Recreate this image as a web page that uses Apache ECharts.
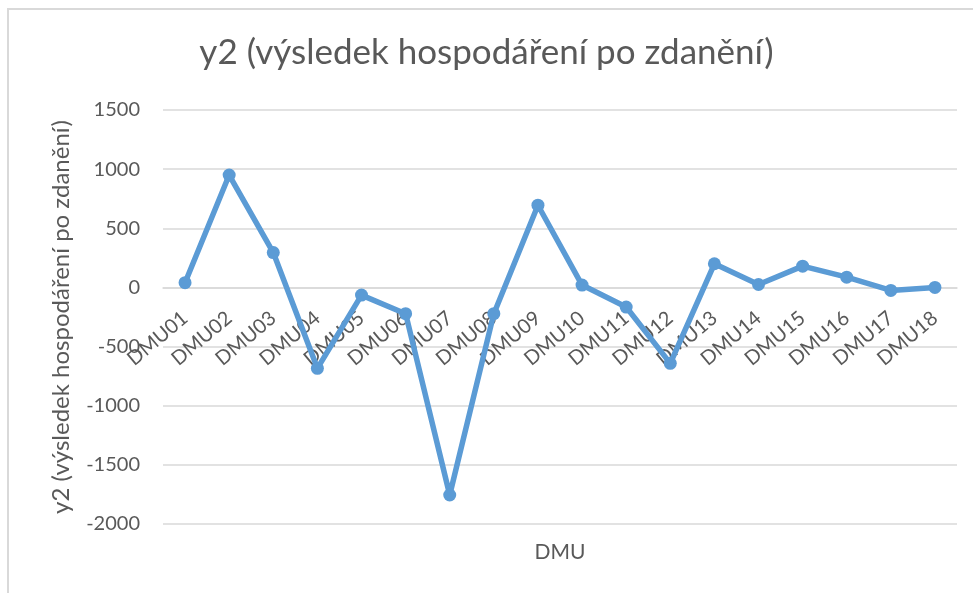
<!DOCTYPE html>
<html>
<head>
<meta charset="utf-8">
<script src="https://cdn.jsdelivr.net/npm/echarts@6/dist/echarts.min.js"></script>
<style>
  html, body { margin: 0; padding: 0; background: #fff; }
  #chart { width: 973px; height: 593px; }
</style>
</head>
<body>
<div id="chart"></div>
<script>
const categories = ['DMU01', 'DMU02', 'DMU03', 'DMU04', 'DMU05', 'DMU06', 'DMU07', 'DMU08', 'DMU09',
  'DMU10', 'DMU11', 'DMU12', 'DMU13', 'DMU14', 'DMU15', 'DMU16', 'DMU17', 'DMU18']
const y2Values = [40, 950, 295, -684, -65, -222, -1755, -222, 695, 20, -166, -642, 200, 25, 180, 87, -25, 0]

const chart = echarts.init(document.getElementById('chart'))

const textColor = '#595959'
const font = 'Lato, "Noto Sans", sans-serif'

chart.setOption({
  backgroundColor: '#fff',
  animation: false,
  title: {
    text: 'y2 (výsledek hospodáření po zdanění)',
    left: 'center',
    top: 30,
    textStyle: { color: textColor, fontFamily: font, fontSize: 35, fontWeight: 'normal' },
  },
  // rámeček grafu (vidět jen levá a horní hrana)
  graphic: [{
    type: 'rect',
    shape: { x: 8, y: 9, width: 1100, height: 800 },
    style: { fill: 'none', stroke: '#d9d9d9', lineWidth: 2 },
    silent: true,
  }],
  grid: {
    left: 163,
    right: 16,
    top: 110,
    bottom: 69,
    containLabel: false,
    outerBoundsMode: 'none',
  },
  xAxis: {
    type: 'category',
    data: categories,
    name: 'DMU',
    nameLocation: 'middle',
    nameGap: 254,
    nameTextStyle: { color: textColor, fontFamily: font, fontSize: 21 },
    axisLine: { onZero: false, lineStyle: { color: '#d9d9d9', width: 1.5 } },
    axisTick: { show: false },
    axisLabel: {
      interval: 0,
      rotate: 40,
      margin: 28,
      color: textColor,
      fontFamily: font,
      fontSize: 20,
    },
  },
  yAxis: {
    type: 'value',
    min: -2000,
    max: 1500,
    interval: 500,
    name: 'y2 (výsledek hospodáření po zdanění)',
    nameLocation: 'middle',
    nameGap: 90,
    nameTextStyle: { color: textColor, fontFamily: font, fontSize: 24 },
    axisLine: { show: false },
    axisTick: { show: false },
    axisLabel: {
      color: textColor,
      fontFamily: font,
      fontSize: 20,
      margin: 23,
      formatter: (v) => String(v),
    },
    splitLine: { lineStyle: { color: '#d9d9d9', width: 1.5 } },
  },
  series: [
    {
      name: 'y2',
      type: 'line',
      data: y2Values,
      symbol: 'circle',
      symbolSize: 13,
      lineStyle: { color: '#5b9bd5', width: 5.5 },
      itemStyle: { color: '#5b9bd5' },
    },
  ],
})

// osa kategorií protíná osu Y v nule (jako v Excelu)
const zeroY = chart.convertToPixel({ yAxisIndex: 0 }, 0)
const bottomY = chart.convertToPixel({ yAxisIndex: 0 }, -2000)
chart.setOption({ xAxis: { offset: -(bottomY - zeroY) } })
</script>
</body>
</html>
